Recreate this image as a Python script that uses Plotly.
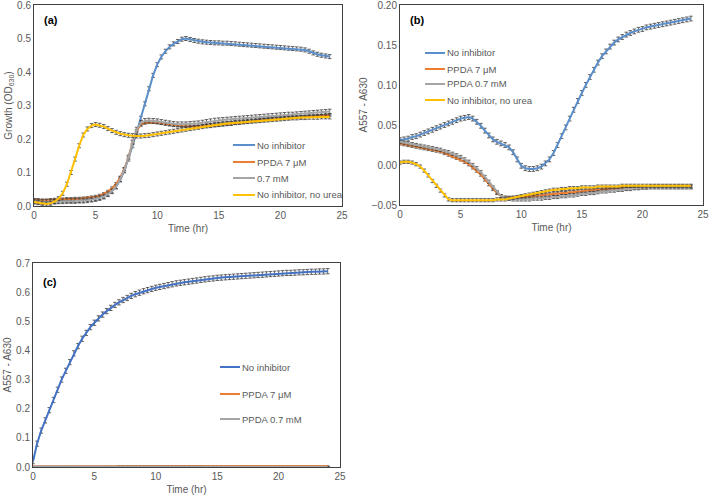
import plotly.graph_objects as go

# sampling times, every 20 min over 24 h
time_hr = [round(i / 3, 2) for i in range(73)]

# ---- panel (a): growth (OD630)
a_no_inhibitor = [
    0.015, 0.014, 0.013, 0.013, 0.014, 0.015, 0.015, 0.016, 0.016, 0.016, 0.017, 0.017,
    0.018, 0.019, 0.020, 0.022, 0.025, 0.029, 0.036, 0.045, 0.058, 0.078, 0.105, 0.140,
    0.180, 0.220, 0.262, 0.305, 0.350, 0.390, 0.422, 0.445, 0.462, 0.475, 0.484, 0.491,
    0.498, 0.500, 0.497, 0.494, 0.492, 0.490, 0.489, 0.488, 0.487, 0.487, 0.486, 0.486,
    0.485, 0.484, 0.483, 0.482, 0.481, 0.480, 0.479, 0.478, 0.477, 0.476, 0.475, 0.474,
    0.473, 0.472, 0.471, 0.470, 0.469, 0.468, 0.466, 0.462, 0.457, 0.453, 0.450, 0.448,
    0.446,
]
a_ppda_7um = [
    0.018, 0.018, 0.017, 0.017, 0.018, 0.019, 0.020, 0.020, 0.021, 0.021, 0.022, 0.022,
    0.023, 0.024, 0.026, 0.028, 0.031, 0.036, 0.043, 0.053, 0.066, 0.085, 0.110, 0.145,
    0.190, 0.225, 0.242, 0.248, 0.250, 0.250, 0.249, 0.247, 0.245, 0.243, 0.241, 0.240,
    0.239, 0.238, 0.237, 0.237, 0.237, 0.238, 0.239, 0.240, 0.241, 0.242, 0.243, 0.244,
    0.245, 0.247, 0.248, 0.250, 0.251, 0.253, 0.254, 0.255, 0.257, 0.258, 0.259, 0.260,
    0.261, 0.262, 0.263, 0.264, 0.265, 0.266, 0.267, 0.268, 0.268, 0.269, 0.270, 0.271,
    0.272,
]
a_ppda_07mm = [
    0.014, 0.013, 0.012, 0.012, 0.013, 0.013, 0.014, 0.014, 0.015, 0.015, 0.015, 0.016,
    0.016, 0.017, 0.019, 0.021, 0.024, 0.028, 0.035, 0.044, 0.058, 0.080, 0.108, 0.145,
    0.190, 0.228, 0.248, 0.254, 0.255, 0.254, 0.253, 0.251, 0.249, 0.247, 0.245, 0.244,
    0.244, 0.244, 0.245, 0.246, 0.247, 0.249, 0.251, 0.253, 0.255, 0.256, 0.257, 0.258,
    0.259, 0.260, 0.261, 0.262, 0.263, 0.264, 0.265, 0.266, 0.267, 0.268, 0.269, 0.270,
    0.271, 0.272, 0.273, 0.273, 0.274, 0.275, 0.276, 0.277, 0.278, 0.279, 0.280, 0.281,
    0.282,
]
a_no_urea = [
    0.012, 0.010, 0.008, 0.006, 0.008, 0.013, 0.022, 0.038, 0.065, 0.100, 0.140, 0.180,
    0.212, 0.230, 0.240, 0.243, 0.241, 0.237, 0.231, 0.225, 0.220, 0.216, 0.213, 0.211,
    0.210, 0.209, 0.209, 0.210, 0.211, 0.213, 0.215, 0.217, 0.219, 0.221, 0.223, 0.225,
    0.227, 0.229, 0.231, 0.233, 0.235, 0.237, 0.239, 0.240, 0.242, 0.243, 0.245, 0.246,
    0.247, 0.249, 0.250, 0.251, 0.252, 0.253, 0.254, 0.255, 0.256, 0.257, 0.258, 0.259,
    0.260, 0.261, 0.262, 0.263, 0.263, 0.264, 0.264, 0.265, 0.265, 0.265, 0.266, 0.266,
    0.266,
]
a_err = [0.006, 0.004, 0.007, 0.006]

# ---- panel (b): A557 - A630 with urea
b_no_inhibitor = [
    0.031, 0.032, 0.033, 0.035, 0.036, 0.038, 0.040, 0.042, 0.044, 0.046, 0.048, 0.050,
    0.052, 0.054, 0.056, 0.058, 0.059, 0.060, 0.058, 0.054, 0.049, 0.043, 0.037, 0.032,
    0.029, 0.027, 0.025, 0.022, 0.016, 0.007, -0.001, -0.004, -0.005, -0.005, -0.004, -0.002,
    0.002, 0.007, 0.015, 0.025, 0.036, 0.047, 0.058, 0.069, 0.080, 0.090, 0.100, 0.110,
    0.119, 0.128, 0.136, 0.142, 0.148, 0.153, 0.157, 0.160, 0.163, 0.165, 0.167, 0.169,
    0.170, 0.172, 0.173, 0.174, 0.175, 0.176, 0.177, 0.178, 0.179, 0.180, 0.181, 0.182,
    0.183,
]
b_ppda_7um = [
    0.027, 0.026, 0.025, 0.024, 0.023, 0.022, 0.021, 0.020, 0.019, 0.018, 0.017, 0.015,
    0.013, 0.011, 0.009, 0.007, 0.004, 0.001, -0.003, -0.007, -0.012, -0.018, -0.024, -0.030,
    -0.035, -0.039, -0.041, -0.041, -0.041, -0.041, -0.040, -0.040, -0.039, -0.039, -0.038, -0.038,
    -0.037, -0.037, -0.036, -0.036, -0.035, -0.035, -0.034, -0.034, -0.033, -0.033, -0.032, -0.032,
    -0.031, -0.031, -0.031, -0.030, -0.030, -0.030, -0.029, -0.029, -0.029, -0.028, -0.028, -0.028,
    -0.028, -0.028, -0.027, -0.027, -0.027, -0.027, -0.027, -0.027, -0.027, -0.027, -0.027, -0.027,
    -0.027,
]
b_ppda_07mm = [
    0.029, 0.028, 0.027, 0.026, 0.025, 0.024, 0.023, 0.022, 0.021, 0.020, 0.019, 0.017,
    0.016, 0.014, 0.012, 0.010, 0.007, 0.004, 0.000, -0.004, -0.009, -0.015, -0.021, -0.028,
    -0.034, -0.039, -0.041, -0.042, -0.043, -0.043, -0.043, -0.043, -0.043, -0.042, -0.042, -0.042,
    -0.041, -0.041, -0.040, -0.040, -0.039, -0.039, -0.038, -0.038, -0.037, -0.036, -0.036, -0.035,
    -0.035, -0.034, -0.033, -0.033, -0.032, -0.032, -0.031, -0.031, -0.030, -0.030, -0.029, -0.029,
    -0.028, -0.028, -0.028, -0.028, -0.028, -0.028, -0.028, -0.028, -0.028, -0.028, -0.028, -0.028,
    -0.028,
]
b_no_urea = [
    0.003, 0.004, 0.004, 0.003, 0.001, -0.002, -0.007, -0.013, -0.020, -0.026, -0.032, -0.038,
    -0.043, -0.044, -0.044, -0.044, -0.044, -0.044, -0.044, -0.044, -0.044, -0.044, -0.044, -0.044,
    -0.043, -0.043, -0.043, -0.042, -0.041, -0.040, -0.039, -0.038, -0.037, -0.036, -0.035, -0.034,
    -0.033, -0.032, -0.031, -0.031, -0.030, -0.030, -0.029, -0.029, -0.029, -0.028, -0.028, -0.028,
    -0.028, -0.027, -0.027, -0.027, -0.027, -0.027, -0.027, -0.026, -0.026, -0.026, -0.026, -0.026,
    -0.026, -0.026, -0.026, -0.026, -0.026, -0.026, -0.026, -0.026, -0.026, -0.026, -0.026, -0.026,
    -0.026,
]
b_err = [0.003, 0.002, 0.002, 0.002]

# ---- panel (c): A557 - A630
c_no_inhibitor = [
    0.020, 0.080, 0.125, 0.160, 0.195, 0.230, 0.265, 0.300, 0.330, 0.360, 0.390, 0.415,
    0.440, 0.460, 0.480, 0.495, 0.510, 0.523, 0.535, 0.546, 0.556, 0.565, 0.573, 0.580,
    0.587, 0.593, 0.598, 0.603, 0.607, 0.611, 0.615, 0.618, 0.621, 0.624, 0.627, 0.630,
    0.632, 0.634, 0.636, 0.638, 0.640, 0.642, 0.644, 0.646, 0.647, 0.649, 0.650, 0.651,
    0.652, 0.653, 0.654, 0.655, 0.656, 0.657, 0.658, 0.659, 0.660, 0.661, 0.662, 0.663,
    0.664, 0.665, 0.666, 0.666, 0.667, 0.668, 0.668, 0.669, 0.670, 0.670, 0.671, 0.671,
    0.672,
]
c_ppda_7um = [
    0.002, 0.002, 0.002, 0.002, 0.002, 0.002, 0.002, 0.002, 0.002, 0.002, 0.002, 0.002,
    0.002, 0.002, 0.002, 0.002, 0.002, 0.002, 0.002, 0.002, 0.002, 0.003, 0.003, 0.003,
    0.003, 0.003, 0.003, 0.003, 0.003, 0.003, 0.003, 0.003, 0.003, 0.003, 0.003, 0.003,
    0.003, 0.003, 0.003, 0.003, 0.003, 0.003, 0.003, 0.003, 0.003, 0.003, 0.003, 0.003,
    0.003, 0.003, 0.003, 0.003, 0.003, 0.003, 0.003, 0.003, 0.003, 0.003, 0.003, 0.003,
    0.003, 0.003, 0.003, 0.003, 0.003, 0.003, 0.003, 0.003, 0.003, 0.003, 0.003, 0.003,
    0.003,
]
c_ppda_07mm = [
    0.001, 0.001, 0.001, 0.001, 0.001, 0.001, 0.001, 0.001, 0.001, 0.001, 0.001, 0.001,
    0.001, 0.001, 0.001, 0.001, 0.001, 0.001, 0.001, 0.001, 0.001, 0.001, 0.001, 0.001,
    0.001, 0.001, 0.001, 0.001, 0.001, 0.001, 0.001, 0.001, 0.001, 0.001, 0.001, 0.001,
    0.001, 0.001, 0.001, 0.001, 0.001, 0.001, 0.000, 0.000, 0.000, 0.000, 0.000, 0.000,
    0.000, 0.000, 0.000, 0.000, 0.000, 0.000, 0.000, 0.000, 0.000, 0.000, 0.000, 0.000,
    0.000, 0.000, 0.000, 0.000, 0.000, 0.000, 0.000, 0.000, 0.000, 0.000, 0.000, 0.000,
    0.000,
]
c_err = [0.009, 0.001, 0.001]

a_names = ["No inhibitor", "PPDA 7 μM", "0.7 mM", "No inhibitor, no urea"]
b_names = ["No inhibitor", "PPDA 7 μM", "PPDA 0.7 mM", "No inhibitor, no urea"]
c_names = ["No inhibitor", "PPDA 7 μM", "PPDA 0.7 mM"]

BLUE_AB = "#5B8FCB"
BLUE_C = "#4472C4"
ORANGE = "#ED7D31"
GRAY = "#A5A5A5"
YELLOW = "#FFC000"
ERR_COLOR = "#404040"
TXT = "#595959"
FONT = "Liberation Sans, Arial, sans-serif"

W, H = 709, 496


def px_x(p):
    return p / W


def px_y(p):
    return 1 - p / H


def series(x, y, err, name, color, xa, ya):
    return go.Scatter(
        x=x, y=y, name=name, mode="lines", showlegend=False,
        line=dict(color=color, width=2),
        error_y=dict(type="constant", value=err, color=ERR_COLOR,
                     thickness=0.8, width=1.8),
        xaxis=xa, yaxis=ya,
    )


fig = go.Figure()

panels = [
    (a_names, [a_no_inhibitor, a_ppda_7um, a_ppda_07mm, a_no_urea], a_err,
     [BLUE_AB, ORANGE, GRAY, YELLOW], "x", "y"),
    (b_names, [b_no_inhibitor, b_ppda_7um, b_ppda_07mm, b_no_urea], b_err,
     [BLUE_AB, ORANGE, GRAY, YELLOW], "x2", "y2"),
    (c_names, [c_no_inhibitor, c_ppda_7um, c_ppda_07mm], c_err,
     [BLUE_C, ORANGE, GRAY], "x3", "y3"),
]
for names, data, errs, cols, xa, ya in panels:
    for name, ys, err, col in zip(names, data, errs, cols):
        fig.add_trace(series(time_hr, ys, err, name, col, xa, ya))

# Excel-style legends (key line + label), one per panel
legend_pos = [
    (233, 255, [145, 162, 178, 195]),
    (425, 445, [53, 69, 84, 100]),
    (220, 240, [367, 394, 419]),
]
annotations = []
for (names, _, _, cols, _, _), (lx0, lx1, lys) in zip(panels, legend_pos):
    for name, col, ly in zip(names, cols, lys):
        fig.add_shape(type="line", xref="paper", yref="paper",
                      x0=px_x(lx0), x1=px_x(lx1), y0=px_y(ly), y1=px_y(ly),
                      line=dict(color=col, width=2))
        annotations.append(dict(
            text=name, x=px_x(lx1), y=px_y(ly), xref="paper", yref="paper",
            xanchor="left", yanchor="middle", showarrow=False,
            font=dict(size=9.5, color=TXT, family=FONT)))

for lbl, lx, ly in [("(a)", 42, 20), ("(b)", 408, 20), ("(c)", 41, 282)]:
    annotations.append(dict(
        text="<b>%s</b>" % lbl, x=px_x(lx), y=px_y(ly), xref="paper", yref="paper",
        xanchor="left", yanchor="middle", showarrow=False,
        font=dict(size=11, color="black", family=FONT)))

axis_common = dict(
    showline=True, mirror=True, linecolor="#404040", linewidth=1,
    showgrid=False, zeroline=False, ticks="",
    tickfont=dict(size=10, color=TXT, family=FONT),
    automargin=False, ticklabeloverflow="allow",
)
xcommon = dict(axis_common, range=[0, 25], tickvals=[0, 5, 10, 15, 20, 25])
xtitle = dict(text="Time (hr)", font=dict(size=10, color=TXT, family=FONT), standoff=4)


def ytitle(text):
    return dict(text=text, font=dict(size=10, color=TXT, family=FONT), standoff=2)


fig.update_layout(
    width=W, height=H,
    margin=dict(l=0, r=0, t=0, b=0),
    paper_bgcolor="white", plot_bgcolor="white",
    font=dict(family=FONT, color=TXT),
    showlegend=False,
    xaxis=dict(xcommon, domain=[px_x(34), px_x(342)], anchor="y", title=xtitle),
    yaxis=dict(axis_common, domain=[px_y(206), px_y(5)], anchor="x",
               range=[0, 0.6], dtick=0.1, tickformat=".1f",
               title=ytitle("Growth (OD<sub>630</sub>)")),
    xaxis2=dict(xcommon, domain=[px_x(400), px_x(703)], anchor="y2", title=xtitle),
    yaxis2=dict(axis_common, domain=[px_y(205), px_y(5)], anchor="x2",
                range=[-0.05, 0.2], dtick=0.05, tickformat=".2f",
                title=ytitle("A557 - A630")),
    xaxis3=dict(xcommon, domain=[px_x(33), px_x(340)], anchor="y3", title=xtitle),
    yaxis3=dict(axis_common, domain=[px_y(467), px_y(263)], anchor="x3",
                range=[0, 0.7], dtick=0.1, tickformat=".1f",
                title=ytitle("A557 - A630")),
    annotations=annotations,
)

# the page's default body margin would shift the 709x496 figure off-window
fig.write_html("out.html", config={"displayModeBar": False},
               post_script="document.body.style.margin='0';")
